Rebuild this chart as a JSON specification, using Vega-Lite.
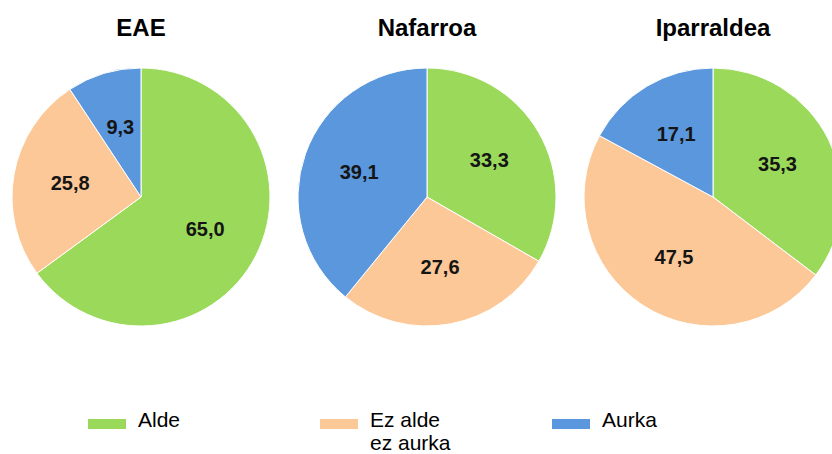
{
  "$schema": "https://vega.github.io/schema/vega-lite/v6.json",
  "padding": {"left": 10, "top": 17, "right": 0, "bottom": 0},
  "data": {"values": [
    {"lurraldea": "EAE", "iritzia": "Alde", "balioa": 65.0},
    {"lurraldea": "EAE", "iritzia": "Ez alde ez aurka", "balioa": 25.8},
    {"lurraldea": "EAE", "iritzia": "Aurka", "balioa": 9.3},
    {"lurraldea": "Nafarroa", "iritzia": "Alde", "balioa": 33.3},
    {"lurraldea": "Nafarroa", "iritzia": "Ez alde ez aurka", "balioa": 27.6},
    {"lurraldea": "Nafarroa", "iritzia": "Aurka", "balioa": 39.1},
    {"lurraldea": "Iparraldea", "iritzia": "Alde", "balioa": 35.3},
    {"lurraldea": "Iparraldea", "iritzia": "Ez alde ez aurka", "balioa": 47.5},
    {"lurraldea": "Iparraldea", "iritzia": "Aurka", "balioa": 17.1}
  ]},
  "transform": [
    {"calculate": "indexof(['Alde','Ez alde ez aurka','Aurka'], datum.iritzia)", "as": "ord"}
  ],
  "facet": {
    "column": {
      "field": "lurraldea", "type": "nominal", "title": null,
      "sort": ["EAE", "Nafarroa", "Iparraldea"],
      "header": {
        "labelFontSize": 24, "labelFontWeight": "bold", "labelFont": "Liberation Sans",
        "labelColor": "#000000", "labelPadding": 25
      }
    }
  },
  "spacing": 24,
  "spec": {
    "width": 258,
    "height": 258,
    "encoding": {
      "theta": {"field": "balioa", "type": "quantitative", "stack": "normalize"},
      "order": {"field": "ord", "type": "quantitative"},
      "color": {
        "field": "iritzia", "type": "nominal",
        "scale": {"domain": ["Alde", "Ez alde ez aurka", "Aurka"], "range": ["#9ad95a", "#fcc898", "#5b97dc"]},
        "legend": {
          "title": null, "orient": "none", "legendX": 76, "legendY": 323,
          "direction": "horizontal", "columns": 3, "gridAlign": "all", "columnPadding": 101,
          "symbolType": "M-1,0.47H1V1H-1Z", "symbolSize": 1444, "symbolStrokeWidth": 0,
          "labelFontSize": 21, "labelFont": "Liberation Sans", "labelColor": "#000000",
          "labelOffset": 12, "labelBaseline": "top", "labelLimit": 0,
          "labelExpr": "datum.label == 'Ez alde ez aurka' ? ['Ez alde', 'ez aurka'] : [datum.label, '']"
        }
      }
    },
    "layer": [
      {"mark": {"type": "arc", "stroke": "#ffffff", "strokeWidth": 1}},
      {
        "mark": {"type": "text", "radius": 72, "fontSize": 20, "fontWeight": "bold", "font": "Liberation Sans"},
        "encoding": {
          "text": {"field": "balioa", "type": "quantitative", "format": ".1f"},
          "color": {"value": "#151515"}
        }
      }
    ]
  },
  "config": {
    "view": {"stroke": null},
    "locale": {"number": {"decimal": ",", "thousands": ".", "grouping": [3], "currency": ["", " €"]}}
  }
}
